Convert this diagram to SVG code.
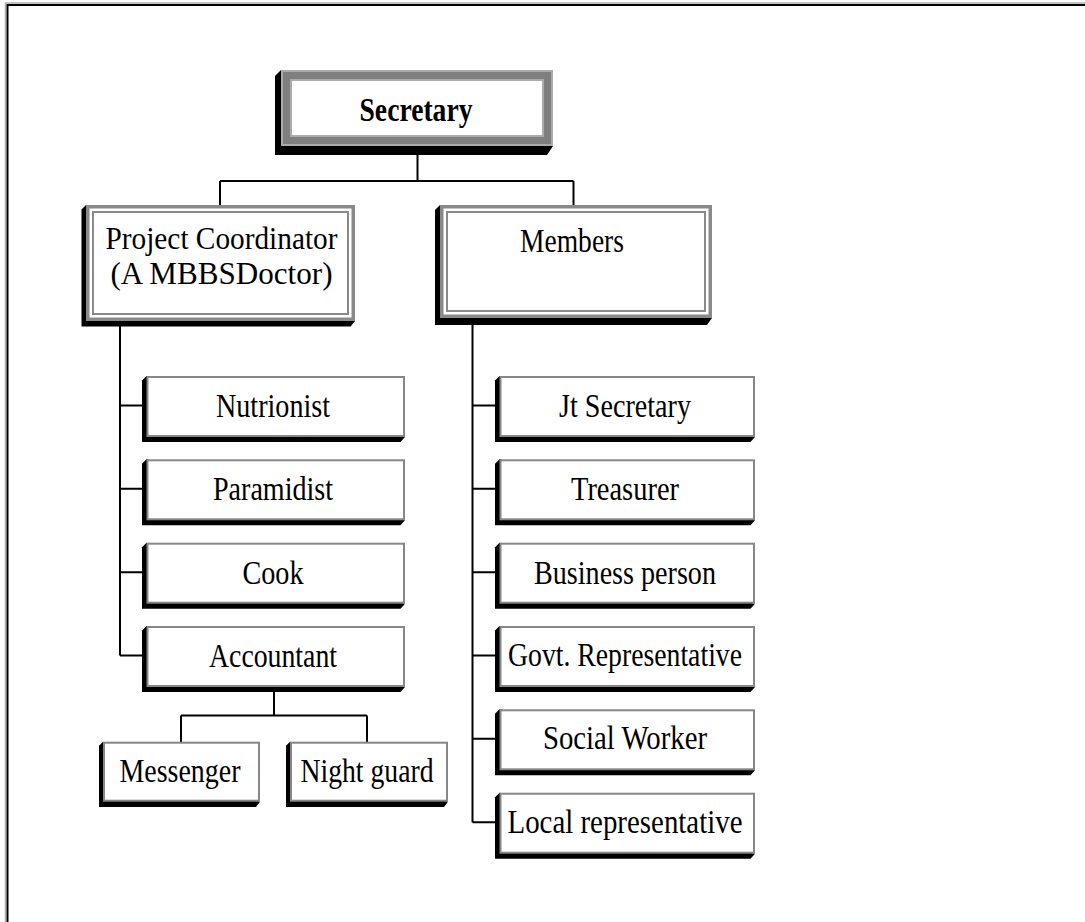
<svg xmlns="http://www.w3.org/2000/svg" width="1085" height="922" viewBox="0 0 1085 922">
<style>
.t{font-family:"Liberation Serif","Times New Roman",serif;font-size:33px;fill:#000;text-anchor:middle}
.b{font-weight:bold}
.sh{fill:#000}
.leaf{fill:#fff;stroke:#878787;stroke-width:2}
.fo{fill:#fff;stroke:#8a8a8a;stroke-width:3.5}
.fi{fill:none;stroke:#8a8a8a;stroke-width:2}
.c{fill:none;stroke:#000;stroke-width:2}
</style>
<rect x="5.5" y="3" width="1100" height="940" fill="none" stroke="#b0b0b0" stroke-width="1.5"/>
<rect x="7.5" y="5" width="1100" height="940" fill="none" stroke="#000" stroke-width="2"/>

<g id="connectors">
<path class="c" d="M417.5,150 V181 M220,181 H573.5 M220,181 V205 M573.5,181 V205"/>
<path class="c" d="M120,326 V655.5 M120,405.5 H142 M120,488.8 H142 M120,572.2 H142 M120,655.5 H142"/>
<path class="c" d="M472.5,325 V822.2 M472.5,405.5 H495 M472.5,488.8 H495 M472.5,572.2 H495 M472.5,655.5 H495 M472.5,738.8 H495 M472.5,822.2 H495"/>
<path class="c" d="M274,690 V715.5 M181,715.5 H367 M181,715.5 V742 M367,715.5 V742"/>
</g>

<g id="secretary">
<polygon class="sh" points="281,70 275,76 275,155 547,155 553,146"/>
<rect x="286.5" y="75.5" width="261" height="65" fill="#fff" stroke="#ababab" stroke-width="11"/>
<rect x="286.5" y="75.5" width="261" height="65" fill="none" stroke="#7f7f7f" stroke-width="7"/>
<text class="t b" x="416" y="121" textLength="113" lengthAdjust="spacingAndGlyphs">Secretary</text>
</g>

<g id="project-coordinator">
<polygon class="sh" points="86,205 81.5,209.5 81.5,326.5 350.5,326.5 355,321"/>
<rect class="fo" x="87.75" y="206.75" width="265.5" height="112.5"/>
<rect class="fi" x="93" y="212" width="255" height="102"/>
<text class="t" x="221.5" y="249" style="font-size:31px" textLength="232" lengthAdjust="spacingAndGlyphs">Project Coordinator</text>
<text class="t" x="221.5" y="284" style="font-size:31px" textLength="222" lengthAdjust="spacingAndGlyphs">(A MBBSDoctor)</text>
</g>

<g id="members">
<polygon class="sh" points="440,205 435,210 435,325 707,325 712,318"/>
<rect class="fo" x="441.75" y="206.75" width="268.5" height="109.5"/>
<rect class="fi" x="447" y="212" width="258" height="99"/>
<text class="t" x="572" y="252" textLength="104" lengthAdjust="spacingAndGlyphs">Members</text>
</g>

<g id="nutrionist">
<polygon class="sh" points="146.5,376 142,380.5 142,442 400.5,442 405,437"/>
<rect class="leaf" x="147.5" y="377" width="256.5" height="59"/>
<text class="t" x="273" y="417" textLength="114" lengthAdjust="spacingAndGlyphs">Nutrionist</text>
</g>
<g id="paramidist">
<polygon class="sh" points="146.5,459.3 142,463.8 142,525.3 400.5,525.3 405,520.3"/>
<rect class="leaf" x="147.5" y="460.3" width="256.5" height="59"/>
<text class="t" x="273" y="500.3" textLength="120" lengthAdjust="spacingAndGlyphs">Paramidist</text>
</g>
<g id="cook">
<polygon class="sh" points="146.5,542.7 142,547.2 142,608.7 400.5,608.7 405,603.7"/>
<rect class="leaf" x="147.5" y="543.7" width="256.5" height="59"/>
<text class="t" x="273" y="583.5" textLength="61" lengthAdjust="spacingAndGlyphs">Cook</text>
</g>
<g id="accountant">
<polygon class="sh" points="146.5,626 142,630.5 142,692 400.5,692 405,687"/>
<rect class="leaf" x="147.5" y="627" width="256.5" height="59"/>
<text class="t" x="273" y="666.5" textLength="128" lengthAdjust="spacingAndGlyphs">Accountant</text>
</g>

<g id="messenger">
<polygon class="sh" points="103,741.7 99,745.7 99,807 256,807 260,801.7"/>
<rect class="leaf" x="104" y="742.7" width="155" height="58"/>
<text class="t" x="180" y="782" textLength="121" lengthAdjust="spacingAndGlyphs">Messenger</text>
</g>
<g id="night-guard">
<polygon class="sh" points="290,741.7 286,745.7 286,807 444,807 448,801.7"/>
<rect class="leaf" x="291" y="742.7" width="156" height="58"/>
<text class="t" x="367" y="782" textLength="133" lengthAdjust="spacingAndGlyphs">Night guard</text>
</g>

<g id="jt-secretary">
<polygon class="sh" points="499.5,376 495,380.5 495,442 750.5,442 755,437"/>
<rect class="leaf" x="500.5" y="377" width="253.5" height="59"/>
<text class="t" x="625" y="417" textLength="132" lengthAdjust="spacingAndGlyphs">Jt Secretary</text>
</g>
<g id="treasurer">
<polygon class="sh" points="499.5,459.3 495,463.8 495,525.3 750.5,525.3 755,520.3"/>
<rect class="leaf" x="500.5" y="460.3" width="253.5" height="59"/>
<text class="t" x="625" y="500.3" textLength="108" lengthAdjust="spacingAndGlyphs">Treasurer</text>
</g>
<g id="business-person">
<polygon class="sh" points="499.5,542.7 495,547.2 495,608.7 750.5,608.7 755,603.7"/>
<rect class="leaf" x="500.5" y="543.7" width="253.5" height="59"/>
<text class="t" x="625" y="583.5" textLength="182" lengthAdjust="spacingAndGlyphs">Business person</text>
</g>
<g id="govt-representative">
<polygon class="sh" points="499.5,626 495,630.5 495,692 750.5,692 755,687"/>
<rect class="leaf" x="500.5" y="627" width="253.5" height="59"/>
<text class="t" x="625" y="665.5" textLength="234" lengthAdjust="spacingAndGlyphs">Govt. Representative</text>
</g>
<g id="social-worker">
<polygon class="sh" points="499.5,709.3 495,713.8 495,775.3 750.5,775.3 755,770.3"/>
<rect class="leaf" x="500.5" y="710.3" width="253.5" height="59"/>
<text class="t" x="625" y="748.5" textLength="164" lengthAdjust="spacingAndGlyphs">Social Worker</text>
</g>
<g id="local-representative">
<polygon class="sh" points="499.5,792.7 495,797.2 495,858.7 750.5,858.7 755,853.7"/>
<rect class="leaf" x="500.5" y="793.7" width="253.5" height="59"/>
<text class="t" x="625" y="832.5" textLength="235" lengthAdjust="spacingAndGlyphs">Local representative</text>
</g>
</svg>
